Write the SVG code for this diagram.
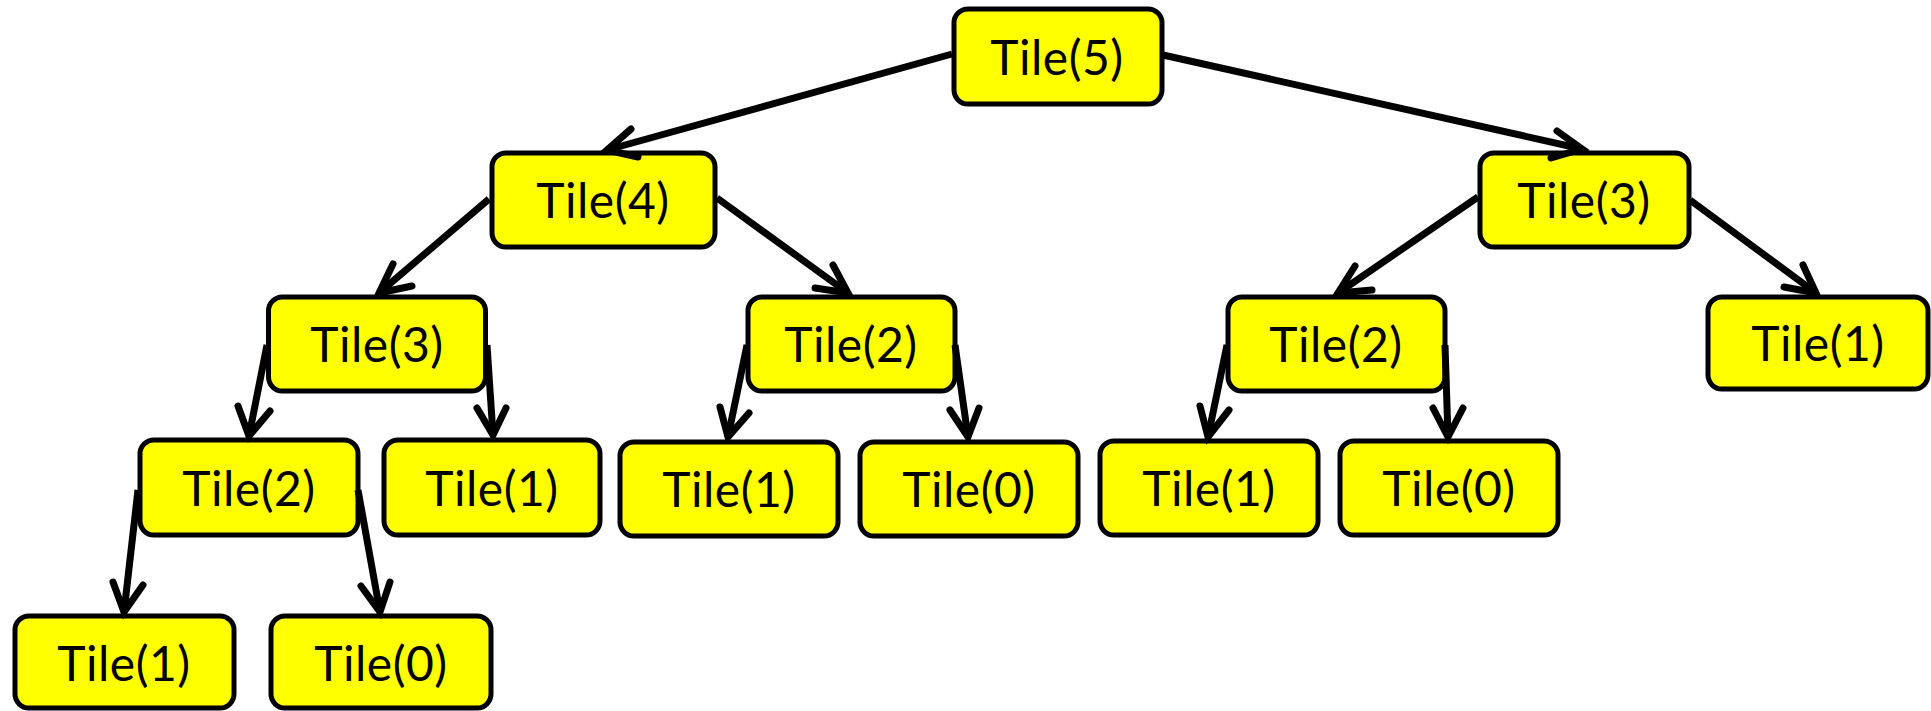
<svg xmlns="http://www.w3.org/2000/svg" width="1931" height="711" viewBox="0 0 1931 711">
<style>
.box{fill:#ffff00;stroke:#000;stroke-width:5}
.lbl{font-family:Lato,"Open Sans","Liberation Sans",sans-serif;font-size:48px;fill:#000;text-anchor:middle;letter-spacing:0.5px}
.edge{fill:none;stroke:#000;stroke-width:7;stroke-linecap:butt}
.head{fill:none;stroke:#000;stroke-width:7;stroke-linecap:round;stroke-linejoin:miter}
</style>
<rect width="1931" height="711" fill="#fff"/>
<g id="nodes">
<g id="n5"><rect class="box" x="954" y="9" width="208" height="95" rx="14"/><text class="lbl" x="1057" y="75">Tile(5)</text></g>
<g id="n4"><rect class="box" x="492" y="153" width="223" height="94" rx="14"/><text class="lbl" x="603" y="218">Tile(4)</text></g>
<g id="n3r"><rect class="box" x="1480" y="153" width="209" height="94" rx="14"/><text class="lbl" x="1584" y="218">Tile(3)</text></g>
<g id="n3l"><rect class="box" x="268.5" y="297" width="217" height="94" rx="14"/><text class="lbl" x="377" y="362">Tile(3)</text></g>
<g id="n2m"><rect class="box" x="748" y="297" width="207" height="94" rx="14"/><text class="lbl" x="851" y="362">Tile(2)</text></g>
<g id="n2r"><rect class="box" x="1228" y="297" width="217" height="94" rx="14"/><text class="lbl" x="1336" y="362">Tile(2)</text></g>
<g id="n1rr"><rect class="box" x="1708" y="297" width="220" height="92" rx="14"/><text class="lbl" x="1818" y="361">Tile(1)</text></g>
<g id="n2l"><rect class="box" x="140" y="440" width="218" height="95" rx="14"/><text class="lbl" x="249" y="506">Tile(2)</text></g>
<g id="n1a"><rect class="box" x="384" y="440" width="216" height="95" rx="14"/><text class="lbl" x="492" y="506">Tile(1)</text></g>
<g id="n1b"><rect class="box" x="620" y="442" width="218" height="94" rx="14"/><text class="lbl" x="729" y="507">Tile(1)</text></g>
<g id="n0b"><rect class="box" x="860" y="442" width="218" height="94" rx="14"/><text class="lbl" x="969" y="507">Tile(0)</text></g>
<g id="n1c"><rect class="box" x="1100" y="441" width="218" height="94" rx="14"/><text class="lbl" x="1209" y="506">Tile(1)</text></g>
<g id="n0c"><rect class="box" x="1340" y="441" width="218" height="94" rx="14"/><text class="lbl" x="1449" y="506">Tile(0)</text></g>
<g id="n1d"><rect class="box" x="15" y="616" width="219" height="92" rx="14"/><text class="lbl" x="124" y="681">Tile(1)</text></g>
<g id="n0d"><rect class="box" x="271" y="616" width="220" height="92" rx="14"/><text class="lbl" x="381" y="681">Tile(0)</text></g>
</g>
<g id="connectors">
<line class="edge" x1="952" y1="54" x2="607" y2="150"/><polyline class="head" points="631,129 607,150 638,157"/>
<line class="edge" x1="1163" y1="55" x2="1582" y2="149"/><polyline class="head" points="1557,131 1582,149 1551,158"/>
<line class="edge" x1="489" y1="199" x2="379" y2="293"/><polyline class="head" points="393,264 379,293 412,286"/>
<line class="edge" x1="717" y1="198" x2="848" y2="293"/><polyline class="head" points="833,265 848,293 815,288"/>
<line class="edge" x1="1478" y1="197" x2="1338" y2="293"/><polyline class="head" points="1355,266 1338,293 1372,290"/>
<line class="edge" x1="1690" y1="200" x2="1816" y2="293"/><polyline class="head" points="1803,265 1816,293 1784,287"/>
<line class="edge" x1="267" y1="345" x2="249" y2="436"/><polyline class="head" points="238,406 249,436 270,411"/>
<line class="edge" x1="487" y1="345" x2="493" y2="435"/><polyline class="head" points="477,408 493,435 506,408"/>
<line class="edge" x1="747" y1="345" x2="728" y2="437"/><polyline class="head" points="720,407 728,437 749,413"/>
<line class="edge" x1="955" y1="345" x2="968" y2="437"/><polyline class="head" points="950,410 968,437 979,408"/>
<line class="edge" x1="1227" y1="345" x2="1208" y2="437"/><polyline class="head" points="1200,406 1208,437 1229,410"/>
<line class="edge" x1="1445" y1="345" x2="1448" y2="437"/><polyline class="head" points="1433,408 1448,437 1463,408"/>
<line class="edge" x1="138" y1="490" x2="124" y2="612"/><polyline class="head" points="113,582 124,612 143,585"/>
<line class="edge" x1="358" y1="490" x2="380" y2="612"/><polyline class="head" points="361,586 380,612 390,582"/>
</g>
</svg>
